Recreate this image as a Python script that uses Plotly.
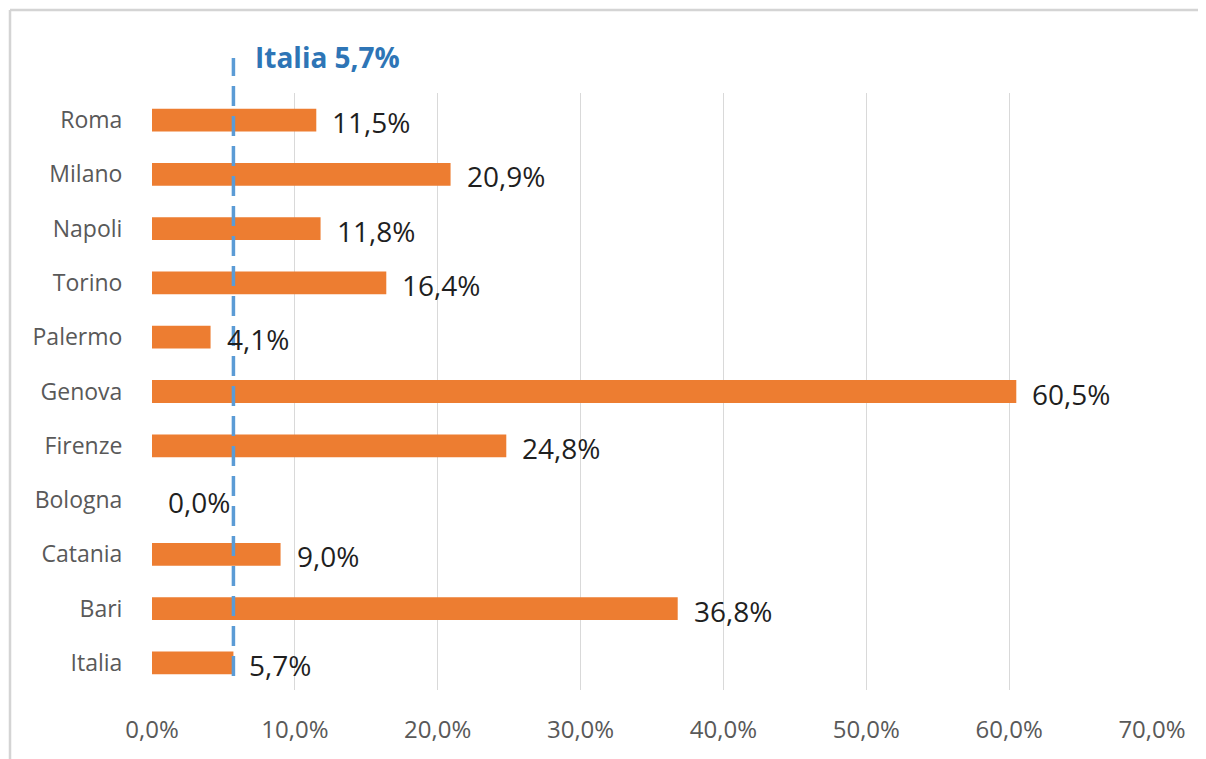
import plotly.graph_objects as go

cities = ["Roma", "Milano", "Napoli", "Torino", "Palermo", "Genova",
          "Firenze", "Bologna", "Catania", "Bari", "Italia"]
values = [11.5, 20.9, 11.8, 16.4, 4.1, 60.5, 24.8, 0.0, 9.0, 36.8, 5.7]
x_ticks = [0, 10, 20, 30, 40, 50, 60, 70]
x_tick_labels = ["0,0%", "10,0%", "20,0%", "30,0%", "40,0%", "50,0%", "60,0%", "70,0%"]
italia_value = 5.7
italia_label = "Italia 5,7%"


def fmt(v):
    return f"{v:.1f}".replace(".", ",") + "%"


FONT = "Open Sans"
OFF = 8  # default page body margin
WIN_W, WIN_H = 1206, 759
W, H = WIN_W - OFF, WIN_H - OFF
# target plot area in window pixels: x 152..1152, y 93..690
ML, MT = 152 - OFF, 93 - OFF
MR, MB = WIN_W - 1152, WIN_H - 690
PW, PH = W - ML - MR, H - MT - MB


def py(win_y):
    """window pixel y -> paper y"""
    return (690 - win_y) / PH


def px(win_x):
    return (win_x - 152) / PW


fig = go.Figure()
fig.add_trace(go.Bar(
    y=cities, x=values, orientation="h",
    marker=dict(color="#ED7D31", line=dict(width=0)),
    hoverinfo="skip",
))

annotations = []
for c, v in zip(cities, values):
    annotations.append(dict(
        x=v, y=c, xref="x", yref="y", text=fmt(v), showarrow=False,
        xanchor="left", yanchor="middle", xshift=14, yshift=-2,
        font=dict(family=FONT, size=28, color="#1f1f1f"),
    ))

annotations.append(dict(
    x=italia_value, y=py(57), xref="x", yref="paper",
    text=f"<b>{italia_label}</b>", showarrow=False,
    xanchor="left", yanchor="middle", xshift=20,
    font=dict(family=FONT, size=28, color="#2E75B6"),
))

shapes = [
    dict(type="line", xref="x", yref="paper",
         x0=italia_value, x1=italia_value,
         y0=py(676), y1=py(58),
         line=dict(color="#5B9BD5", width=3.5, dash="20px,10px")),
    # outer frame (top and left edges)
    dict(type="line", xref="paper", yref="paper",
         x0=px(10), x1=px(WIN_W + 5), y0=py(10), y1=py(10),
         line=dict(color="#D4D4D4", width=2.5)),
    dict(type="line", xref="paper", yref="paper",
         x0=px(10), x1=px(10), y0=py(10), y1=py(WIN_H + 5),
         line=dict(color="#D4D4D4", width=2.5)),
]

fig.update_layout(
    width=W, height=H,
    margin=dict(l=ML, r=MR, t=MT, b=MB, pad=0),
    paper_bgcolor="white", plot_bgcolor="white",
    showlegend=False,
    bargap=0.58,
    annotations=annotations,
    shapes=shapes,
    xaxis=dict(
        range=[0, 70], tickmode="array", tickvals=x_ticks, ticktext=x_tick_labels,
        showgrid=True, gridcolor="#D9D9D9", gridwidth=1.3,
        zeroline=False, showline=False,
        ticks="outside", ticklen=18, tickcolor="rgba(0,0,0,0)",
        tickfont=dict(family=FONT, size=24, color="#595959"),
        fixedrange=True,
    ),
    yaxis=dict(
        categoryorder="array", categoryarray=cities[::-1],
        showgrid=False, zeroline=False, showline=False,
        ticks="outside", ticklen=24, tickcolor="rgba(0,0,0,0)",
        tickfont=dict(family=FONT, size=23, color="#595959"),
        fixedrange=True,
    ),
)

fig.write_html("out.html")
